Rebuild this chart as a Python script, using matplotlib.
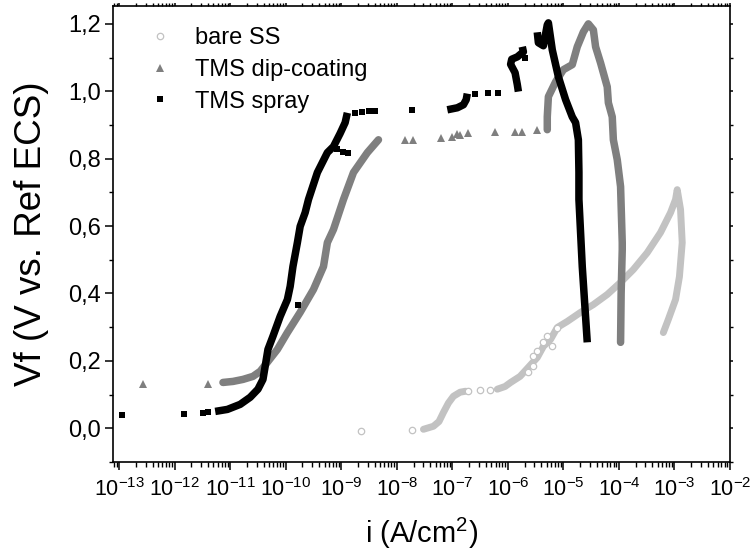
import numpy as np
import matplotlib
matplotlib.use('Agg')
import matplotlib.pyplot as plt
from matplotlib.ticker import FixedLocator, FuncFormatter, LogLocator, NullFormatter, MultipleLocator

nan = np.nan

# ---------------- data (log10 of current density, potential) ----------------
# bare SS : isolated markers
bare_sparse_log_i = [-8.64, -7.72, -6.71, -6.50, -6.33, -5.63, -5.54, -5.54, -5.47, -5.36, -5.29, -5.20, -5.11]
bare_sparse_v     = [-0.009, -0.006, 0.110, 0.113, 0.113, 0.166, 0.184, 0.213, 0.228, 0.255, 0.273, 0.243, 0.299]
# bare SS : dense parts (nan separates pieces)
bare_band_log_i = [-7.52, -7.34, -7.24, -7.16, -7.07, -6.98, -6.86, -6.76, nan,
                   -6.19, -6.05, -5.95, -5.78, -5.63, -5.47, -5.36, -5.23, -5.11, -4.93, -4.69,
                   -4.46, -4.21, -3.97, -3.74, -3.49, -3.25, -3.07, -2.98, -2.95, -2.89, -2.86,
                   -2.91, -2.98, -3.11, -3.20]
bare_band_v     = [-0.003, 0.006, 0.020, 0.047, 0.075, 0.095, 0.107, 0.110, nan,
                   0.116, 0.124, 0.136, 0.154, 0.181, 0.210, 0.243, 0.264, 0.299, 0.317, 0.344,
                   0.367, 0.397, 0.433, 0.471, 0.521, 0.581, 0.640, 0.679, 0.708, 0.649, 0.551,
                   0.450, 0.382, 0.323, 0.284]

# TMS dip-coating
dip_sparse_log_i = [-12.57, -11.40, -7.85, -7.70, -7.20, -7.00, -6.91, -6.86, -6.71, -6.24, -5.88, -5.74, -5.47]
dip_sparse_v     = [0.130, 0.130, 0.856, 0.856, 0.862, 0.865, 0.874, 0.871, 0.877, 0.880, 0.880, 0.880, 0.886]
dip_band_log_i = [-11.13, -10.95, -10.77, -10.59, -10.46, -10.33, -10.15, -9.97, -9.74, -9.50,
                  -9.32, -9.25, -9.14, -8.96, -8.78, -8.53, -8.33, nan,
                  -5.29, -5.29, -5.27, -5.14, -5.00, -4.84, -4.75, -4.64, -4.55, -4.46, -4.42,
                  -4.33, -4.21, -4.19, -4.12, -4.10, -4.03, -3.97, -3.94, -3.94, -3.96, -3.97]
dip_band_v     = [0.136, 0.139, 0.145, 0.154, 0.169, 0.196, 0.234, 0.284, 0.344, 0.412,
                  0.480, 0.551, 0.590, 0.679, 0.759, 0.818, 0.856, nan,
                  0.886, 0.924, 0.984, 1.028, 1.064, 1.079, 1.132, 1.176, 1.200, 1.182, 1.132,
                  1.084, 1.013, 0.966, 0.924, 0.856, 0.797, 0.717, 0.551, 0.530, 0.400, 0.255]

# TMS spray
spray_sparse_log_i = [-12.95, -11.83, -11.49, -11.40, -9.775, -9.07, -8.97, -8.87,
                      -8.75, -8.62, -8.50, -8.39, -7.72, -6.59, -6.35, -6.17, -5.69]
spray_sparse_v     = [0.039, 0.041, 0.044, 0.047, 0.367, 0.830, 0.821, 0.818,
                      0.936, 0.939, 0.942, 0.942, 0.945, 0.993, 0.996, 0.996, 1.099]
spray_band_log_i = [-11.27, -11.05, -10.82, -10.64, -10.50, -10.41, -10.37, -10.32, -10.23, -10.10,
                    -9.97, -9.92, -9.87, -9.79, -9.74, -9.65, -9.59, -9.43, -9.25, -9.14,
                    -9.02, -8.93, -8.89, nan,
                    -7.09, -6.91, -6.80, -6.75, -6.73, nan,
                    -5.81, -5.83, -5.87, -5.95, -5.93, -5.83, -5.72, -5.74, nan,
                    -5.47, -5.45, -5.36, -5.29, -5.27, -5.20, -5.09, -4.96, -4.84, -4.78,
                    -4.73, -4.72, -4.72, -4.66, -4.57]
spray_band_v     = [0.050, 0.056, 0.071, 0.092, 0.116, 0.145, 0.184, 0.234, 0.273, 0.332,
                    0.382, 0.421, 0.480, 0.551, 0.599, 0.640, 0.679, 0.759, 0.818, 0.836,
                    0.875, 0.907, 0.936, nan,
                    0.945, 0.951, 0.960, 0.975, 0.993, nan,
                    0.999, 1.020, 1.055, 1.080, 1.095, 1.102, 1.117, 1.132, nan,
                    1.175, 1.144, 1.135, 1.197, 1.203, 1.123, 1.043, 0.975, 0.924, 0.907,
                    0.856, 0.760, 0.679, 0.480, 0.255]

x_tick_exponents = list(range(-13, -1))
y_ticks = [0.0, 0.2, 0.4, 0.6, 0.8, 1.0, 1.2]

# ---------------- style ----------------
plt.rcParams['font.family'] = ['Liberation Sans', 'DejaVu Sans']
plt.rcParams['mathtext.fontset'] = 'custom'
plt.rcParams['mathtext.rm'] = 'Liberation Sans'
plt.rcParams['mathtext.it'] = 'Liberation Sans'
plt.rcParams['mathtext.bf'] = 'Liberation Sans'

c_bare = '#c2c2c2'
c_dip = '#7f7f7f'
c_spray = '#000000'

fig = plt.figure(figsize=(7.51, 5.55), dpi=100)
ax = fig.add_axes([0.1505, 0.1676, 0.8215, 0.8216])


def pw(a):
    return 10.0 ** np.asarray(a, dtype=float)


# bare SS
ax.plot(pw(bare_band_log_i), bare_band_v, color=c_bare, lw=5.0, solid_capstyle='round',
        solid_joinstyle='round', zorder=2)
h_bare, = ax.plot(pw(bare_sparse_log_i), bare_sparse_v, linestyle='none', marker='o', ms=4.6,
                  mfc='white', mec=c_bare, mew=0.9, zorder=2, label='bare SS')
# dip
ax.plot(pw(dip_band_log_i), dip_band_v, color=c_dip, lw=5.4, solid_capstyle='round',
        solid_joinstyle='round', zorder=3)
h_dip, = ax.plot(pw(dip_sparse_log_i), dip_sparse_v, linestyle='none', marker='^', ms=6.3,
                 mfc=c_dip, mec=c_dip, mew=0, zorder=3, label='TMS dip-coating')
# spray
ax.plot(pw(spray_band_log_i), spray_band_v, color=c_spray, lw=5.4, solid_capstyle='butt',
        solid_joinstyle='round', zorder=4)
h_spray, = ax.plot(pw(spray_sparse_log_i), spray_sparse_v, linestyle='none', marker='s', ms=5.0,
                   mfc=c_spray, mec=c_spray, mew=0, zorder=4, label='TMS spray')

ax.set_xscale('log')
ax.set_xlim(10 ** -13.11, 1e-2)
ax.set_ylim(-0.1, 1.253)

major_x = [10.0 ** e for e in x_tick_exponents]
ax.xaxis.set_major_locator(FixedLocator(major_x))
ax.xaxis.set_major_formatter(FuncFormatter(
    lambda v, p: r'$\mathregular{10^{%d}}$' % int(round(np.log10(v)))))
ax.xaxis.set_minor_locator(LogLocator(base=10, subs=np.arange(2, 10), numticks=100))
ax.xaxis.set_minor_formatter(NullFormatter())

ax.yaxis.set_major_locator(FixedLocator(y_ticks))
ax.yaxis.set_minor_locator(MultipleLocator(0.1))
ax.yaxis.set_major_formatter(FuncFormatter(lambda v, p: ('%.1f' % v).replace('.', ',')))

for sp in ax.spines.values():
    sp.set_linewidth(1.2)

ax.tick_params(axis='both', which='major', direction='out', width=1.1, top=True, right=True)
ax.tick_params(axis='both', which='minor', direction='out', width=1.0, top=True, right=True)
ax.tick_params(axis='x', which='both', top=True, labeltop=False)
ax.tick_params(axis='y', which='both', right=True, labelright=False)
ax.tick_params(axis='y', which='major', labelsize=17, pad=3, length=5.5)
ax.tick_params(axis='y', which='minor', length=3.2)
ax.tick_params(axis='x', which='major', labelsize=15.5, pad=6, length=5.5)
ax.tick_params(axis='x', which='minor', length=3.5)
for t in ax.get_xticklines(minor=False)[1::2] + ax.get_xticklines(minor=True)[1::2]:
    t.set_markersize(2.0)
for t in ax.get_yticklines(minor=False)[1::2] + ax.get_yticklines(minor=True)[1::2]:
    t.set_markersize(2.5)

ax.set_xlabel(r'i (A/cm$^2$)', fontsize=21, labelpad=11)
ax.set_ylabel('Vf (V vs. Ref ECS)', fontsize=26.5, labelpad=14)

leg = ax.legend(handles=[h_bare, h_dip, h_spray], loc='upper left', bbox_to_anchor=(0.0227, 0.974),
                borderaxespad=0, frameon=False, fontsize=17, numpoints=1, labelspacing=0.41,
                handlelength=2.0, handletextpad=0.49, borderpad=0.4)

fig.savefig('out.png', dpi=100)
